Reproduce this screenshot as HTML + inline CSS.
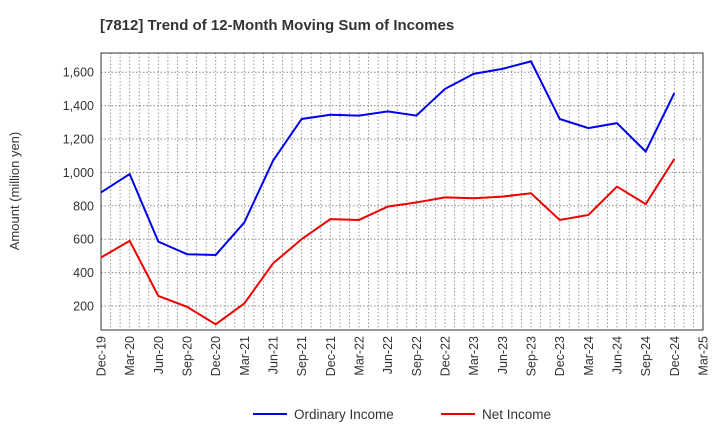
<!DOCTYPE html>
<html><head><meta charset="utf-8"><style>
body{margin:0;background:#fff;font-family:"Liberation Sans",sans-serif}
</style></head><body>
<svg id="c" width="720" height="440" xmlns="http://www.w3.org/2000/svg">
<text x="100" y="30" font-size="15" font-weight="bold" fill="#333">[7812]  Trend of 12-Month Moving Sum of Incomes</text>
<g id="grid"></g><g id="axes"></g><g id="series"></g>
<text transform="translate(19,191) rotate(-90)" text-anchor="middle" font-size="13" fill="#333">Amount (million yen)</text>
<g>
<line x1="253" y1="414" x2="287" y2="414" stroke="#0000ee" stroke-width="2"/>
<text x="294" y="419" font-size="13.5" fill="#333">Ordinary Income</text>
<line x1="441" y1="414" x2="475" y2="414" stroke="#ee0000" stroke-width="2"/>
<text x="482" y="419" font-size="13.5" fill="#333">Net Income</text>
</g>
</svg>
<script>
const categories=["Dec-19","Mar-20","Jun-20","Sep-20","Dec-20","Mar-21","Jun-21","Sep-21","Dec-21","Mar-22","Jun-22","Sep-22","Dec-22","Mar-23","Jun-23","Sep-23","Dec-23","Mar-24","Jun-24","Sep-24","Dec-24","Mar-25"];
const ordinaryIncome=[880,990,585,510,505,700,1070,1320,1345,1340,1365,1340,1500,1590,1620,1665,1320,1265,1295,1125,1475];
const netIncome=[490,590,260,195,90,215,455,600,720,715,795,820,850,845,855,875,715,745,915,810,1080];
const yTicks=[200,400,600,800,1000,1200,1400,1600];
const L=101,R=703,T=53,B=330,yMin=56,yMax=1715;
const NS="http://www.w3.org/2000/svg";
const xs=i=>L+(R-L)*i/(categories.length-1);
const ys=v=>B-(v-yMin)/(yMax-yMin)*(B-T);
function mk(t,a,p){const e=document.createElementNS(NS,t);for(const k in a)e.setAttribute(k,a[k]);p.appendChild(e);return e;}
const g=document.getElementById('grid'),ax=document.getElementById('axes'),s=document.getElementById('series');
const months=(categories.length-1)*3;
for(let m=1;m<months;m++){const x=L+(R-L)*m/months;
const l=mk('line',{x1:x,x2:x,y1:T,y2:B,stroke:'#999','stroke-dasharray':'1.5,2','stroke-width':1},g);

}
yTicks.forEach(v=>{const y=ys(v);
const l=mk('line',{x1:L,x2:R,y1:y,y2:y,stroke:'#888','stroke-dasharray':'1.5,2','stroke-width':1},g);


const t=mk('text',{x:L-7,y:y+4.5,'text-anchor':'end','font-size':12.5,fill:'#333'},ax);
t.textContent=v.toLocaleString('en-US');

});
const fr=mk('rect',{x:L,y:T,width:R-L,height:B-T,fill:'none',stroke:'#333','stroke-width':1},ax);


categories.forEach((c,i)=>{const x=xs(i);
const t=mk('text',{transform:`translate(${x+4.5},${B+6}) rotate(-90)`,'text-anchor':'end','font-size':12.5,fill:'#333'},ax);
t.textContent=c;

});
function line(d,col,name){
const p=mk('polyline',{points:d.map((v,i)=>xs(i)+','+ys(v)).join(' '),fill:'none',stroke:col,'stroke-width':2},s);

}
line(ordinaryIncome,'#0000ee','ordinary-income-line');
line(netIncome,'#ee0000','net-income-line');
</script>
</body></html>
